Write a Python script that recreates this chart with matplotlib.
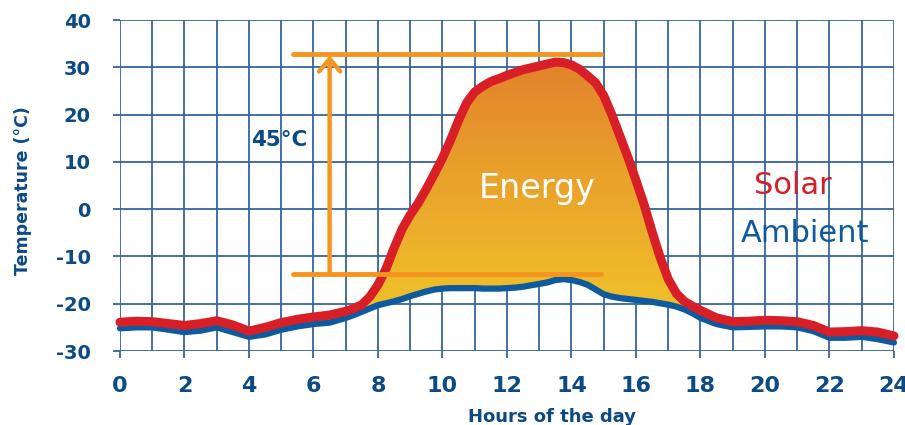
import numpy as np
import matplotlib
matplotlib.use('Agg')
import matplotlib.pyplot as plt
from matplotlib.colors import LinearSegmentedColormap

plt.rcParams['axes.unicode_minus'] = False

# values (half hours, quarter hours around the peak)
hours = [0, 0.5, 1, 1.5, 2, 2.5, 3, 3.5, 4, 4.5, 5, 5.5, 6, 6.5, 7,
         7.25, 7.5, 7.75, 8, 8.25, 8.5, 8.75, 9, 9.25, 9.5, 9.75, 10,
         10.25, 10.5, 10.75, 11, 11.25, 11.5, 11.75, 12, 12.25, 12.5, 12.75, 13,
         13.25, 13.5, 13.75, 14, 14.25, 14.5, 14.75, 15, 15.25, 15.5, 15.75, 16,
         16.25, 16.5, 16.75, 17, 17.25, 17.5, 17.75, 18,
         18.5, 19, 19.5, 20, 20.5, 21, 21.5, 22, 22.5, 23, 23.5, 24]
ambient = [-25.2, -25.0, -25.0, -25.5, -26.0, -25.7, -25.0, -26.0, -27.0, -26.5,
           -25.5, -24.8, -24.3, -24.0, -23.0,
           -22.4, -21.7, -21.0, -20.3, -19.9, -19.5, -19.0, -18.4, -17.9, -17.4,
           -17.0, -16.8, -16.7, -16.7, -16.7, -16.7, -16.8, -16.8, -16.8, -16.7,
           -16.6, -16.4, -16.1, -15.8, -15.5, -15.0, -14.8, -15.0, -15.4, -16.0,
           -17.0, -18.0, -18.5, -18.8, -19.0, -19.2, -19.4, -19.6, -19.9, -20.2,
           -20.6, -21.2, -22.0, -23.0,
           -24.3, -25.0, -24.9, -24.8, -24.8, -25.0, -25.8, -27.2, -27.2, -27.0,
           -27.5, -28.2]
solar = [-23.9, -23.7, -23.8, -24.2, -24.6, -24.2, -23.6, -24.5, -25.8, -25.0,
         -24.0, -23.3, -22.8, -22.4, -21.6,
         -21.0, -20.2, -18.5, -16.0, -12.6, -8.2, -4.2, -1.2, 1.3, 4.3,
         7.5, 10.8, 14.6, 18.8, 22.5, 24.8, 26.0, 27.0, 27.6, 28.3,
         28.9, 29.5, 29.9, 30.3, 30.7, 31.1, 31.0, 30.5, 29.6, 28.2,
         26.7, 24.0, 20.0, 15.5, 11.0, 6.1, 1.0, -4.8, -10.2, -14.8,
         -17.8, -19.5, -20.5, -21.4,
         -23.0, -23.8, -23.7, -23.5, -23.6, -23.8, -24.6, -26.0, -25.9, -25.7,
         -26.0, -26.8]

x_ticks = list(range(0, 25, 2))
y_ticks = list(range(-30, 41, 10))

# 45 degC marker
delta_top = 32.8
delta_bottom = -13.7
delta_x0, delta_x1 = 5.35, 14.9
arrow_x = 6.5

navy = '#0c4a86'
grid_c = '#3464a0'
red = '#d81e27'
blue = '#0d5a9e'
orange = '#f6951e'

fig = plt.figure(figsize=(9.05, 4.25), dpi=100)
ax = fig.add_axes([0.1326, 0.1741, 0.8552, 0.7788])

for s in ax.spines.values():
    s.set_visible(False)
ax.set_xticks(x_ticks)
ax.set_xticks(range(0, 25), minor=True)
ax.set_yticks(y_ticks)
ax.grid(True, which='both', color=grid_c, lw=1.3)
ax.set_axisbelow(True)
ax.tick_params(axis='both', which='major', color=grid_c, width=1.3, length=5,
               labelcolor=navy)
ax.tick_params(axis='x', which='minor', length=0)
ax.tick_params(axis='x', labelsize=16, pad=13)
ax.tick_params(axis='y', labelsize=14, pad=16)
for lab in ax.get_xticklabels() + ax.get_yticklabels():
    lab.set_fontweight('bold')

# energy area with a vertical gradient (orange on top, yellow below)
h = np.array(hours)
a = np.array(ambient)
s_ = np.array(solar)
poly = ax.fill_between(h, a, s_, where=s_ >= a, interpolate=True,
                       facecolor='none', edgecolor='none')
cmap = LinearSegmentedColormap.from_list('energy', ['#efbc29', '#e9a22c', '#e3822b'])
temps = np.linspace(-30, 40, 300)
grad = np.clip((temps + 17) / 48, 0, 1).reshape(-1, 1)
img = ax.imshow(grad, cmap=cmap, origin='lower', aspect='auto',
                extent=[0, 24, -30, 40], zorder=2, vmin=0, vmax=1)
for p in poly.get_paths():
    img.set_clip_path(p, transform=ax.transData)
    break
ax.set_xlim(0, 24)
ax.set_ylim(-30, 40)

ax.plot(hours, ambient, color=blue, lw=4.5, solid_capstyle='round',
        solid_joinstyle='round', zorder=3, clip_on=False)
ax.plot(hours, solar, color=red, lw=6.5, solid_capstyle='round',
        solid_joinstyle='round', zorder=4, clip_on=False)

# orange 45 degC marker
for yv in (delta_top, delta_bottom):
    ax.plot([delta_x0, delta_x1], [yv, yv], color=orange, lw=3.5,
            solid_capstyle='round', zorder=5)
ax.annotate('', xy=(arrow_x, delta_top - 0.3), xytext=(arrow_x, delta_bottom),
            arrowprops=dict(arrowstyle='->,head_length=0.45,head_width=0.38',
                            color=orange, lw=3.2, shrinkA=0, shrinkB=0,
                            mutation_scale=20), zorder=5)
ax.text(4.05, 14.7, '45°C', color=navy, fontsize=15.5, fontweight='bold',
        ha='left', va='center', zorder=6)

ax.text(12.93, 4.4, 'Energy', color='white', fontsize=24, ha='center',
        va='center', zorder=6)
ax.text(20.85, 4.9, 'Solar', color=red, fontsize=22, ha='center', va='center', zorder=6)
ax.text(21.25, -5.2, 'Ambient', color=blue, fontsize=22, ha='center', va='center', zorder=6)

fig.text(23 / 905, 1 - 191 / 425, 'Temperature (°C)', rotation=90, color=navy,
         fontsize=12.5, fontweight='bold', ha='center', va='center')
fig.text(552 / 905, 0.008, 'Hours of the day', color=navy, fontsize=13,
         fontweight='bold', ha='center', va='baseline')

fig.savefig('out.png', dpi=100)
